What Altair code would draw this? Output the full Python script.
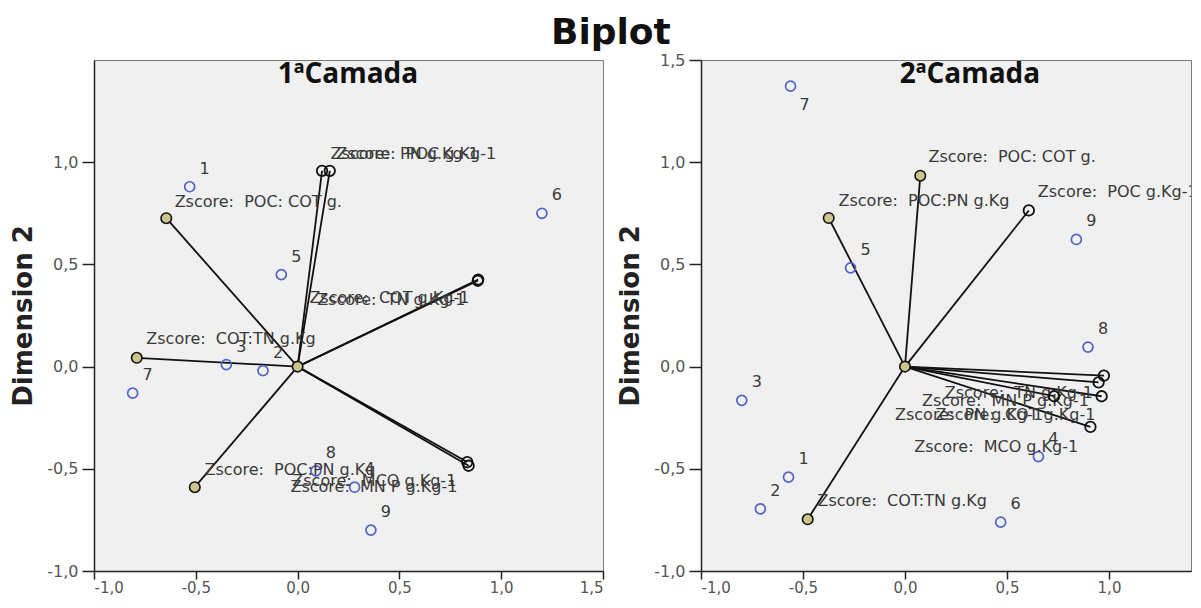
import altair as alt
import pandas as pd

# ---------------- data: 1ª Camada (left panel) ----------------
l_obj_id = ["1", "2", "3", "4", "5", "6", "7", "8", "9"]
l_obj_x = [-0.53, -0.17, -0.35, 0.28, -0.08, 1.20, -0.81, 0.09, 0.36]
l_obj_y = [0.88, -0.02, 0.01, -0.59, 0.45, 0.75, -0.13, -0.51, -0.80]

l_var_name = ["Zscore:\u00a0 POC: COT g.", "Zscore:\u00a0 COT:TN g.Kg", "Zscore:\u00a0 POC:PN g.Kg",
              "Zscore:\u00a0 PN g.Kg-1", "Zscore:\u00a0 POC g.Kg-1", "Zscore:\u00a0 COT g.Kg-1",
              "Zscore:\u00a0 TN g.Kg-1", "Zscore:\u00a0 MCO g.Kg-1", "Zscore:\u00a0 MN P g.Kg-1"]
l_var_kind = ["ratio", "ratio", "ratio", "content", "content", "content", "content", "content", "content"]
l_var_x = [-0.645, -0.79, -0.505, 0.12, 0.158, 0.887, 0.885, 0.833, 0.84]
l_var_y = [0.726, 0.043, -0.59, 0.958, 0.958, 0.426, 0.42, -0.467, -0.485]
l_lab_x = [-0.604, -0.743, -0.457, 0.162, 0.19, 0.058, 0.096, -0.026, -0.035]
l_lab_y = [0.807, 0.136, -0.505, 1.038, 1.038, 0.337, 0.324, -0.562, -0.587]

# ---------------- data: 2ª Camada (right panel) ----------------
r_obj_id = ["1", "2", "3", "4", "5", "6", "7", "8", "9"]
r_obj_x = [-0.571, -0.709, -0.80, 0.654, -0.267, 0.469, -0.561, 0.897, 0.840]
r_obj_y = [-0.541, -0.696, -0.165, -0.44, 0.483, -0.761, 1.372, 0.095, 0.622]

r_var_name = ["Zscore:\u00a0 POC: COT g.", "Zscore:\u00a0 POC:PN g.Kg", "Zscore:\u00a0 POC g.Kg-1",
              "Zscore:\u00a0 COT:TN g.Kg", "Zscore:\u00a0 TN g.Kg-1", "Zscore:\u00a0 MN P g.Kg-1",
              "Zscore:\u00a0 PN g.Kg-1", "Zscore:\u00a0 COT g.Kg-1", "Zscore:\u00a0 MCO g.Kg-1"]
r_var_kind = ["ratio", "ratio", "content", "ratio", "content", "content", "content", "content", "content"]
r_var_x = [0.075, -0.374, 0.607, -0.477, 0.731, 0.964, 0.949, 0.975, 0.909]
r_var_y = [0.934, 0.727, 0.764, -0.747, -0.145, -0.145, -0.077, -0.044, -0.295]
r_lab_x = [0.115, -0.326, 0.651, -0.429, 0.195, 0.083, -0.049, 0.149, 0.045]
r_lab_y = [1.025, 0.81, 0.855, -0.659, -0.13, -0.168, -0.238, -0.238, -0.391]

origin_x = [0.0]
origin_y = [0.0]

l_x_domain = [-1.0, 1.5]
r_x_domain = [-1.0, 1.402]
y_domain = [-1.0, 1.5]
l_x_ticks = [-1.0, -0.5, 0.0, 0.5, 1.0, 1.5]
l_y_ticks = [-1.0, -0.5, 0.0, 0.5, 1.0]
r_x_ticks = [-1.0, -0.5, 0.0, 0.5, 1.0]
r_y_ticks = [-1.0, -0.5, 0.0, 0.5, 1.0, 1.5]

TAN = "#cdc68c"
BLUE = "#4f63c6"
TXT = "#3a3a3a"
LABEL_EXPR = "(datum.value < 0 ? '-' : '') + replace(format(abs(datum.value), '.1f'), '.', ',')"
PLOT_H = 511


def panel(title, title_x, obj_id, obj_x, obj_y, names, kinds, vx, vy, lx, ly,
          x_domain, x_ticks, y_ticks, width, below_ids):
    objs = pd.DataFrame({"id": obj_id, "x": obj_x, "y": obj_y})
    vars_ = pd.DataFrame({"name": names, "kind": kinds, "vx": vx, "vy": vy,
                          "lx": lx, "ly": ly,
                          "ox": origin_x * len(names), "oy": origin_y * len(names)})
    orig = pd.DataFrame({"x": origin_x, "y": origin_y})
    ttl = pd.DataFrame({"t": [title]})

    xs = alt.Scale(domain=x_domain, nice=False, zero=False)
    ys = alt.Scale(domain=y_domain, nice=False, zero=False)
    xa = alt.Axis(values=x_ticks, labelExpr=LABEL_EXPR, title=None,
                  tickSize=8, labelPadding=1, labelFontSize=15)
    ya = alt.Axis(values=y_ticks, labelExpr=LABEL_EXPR, title="Dimension 2")

    def X(f):
        return alt.X(f, type="quantitative", scale=xs, axis=xa)

    def Y(f):
        return alt.Y(f, type="quantitative", scale=ys, axis=ya)

    rules = alt.Chart(vars_).mark_rule(color="#111111", strokeWidth=1.8).encode(
        x=X("ox"), y=Y("oy"), x2="vx:Q", y2="vy:Q")
    hollow = alt.Chart(vars_).transform_filter("datum.kind == 'content'").mark_point(
        shape="circle", filled=False, color="#111111", size=110, strokeWidth=1.8, opacity=1
    ).encode(x=X("vx"), y=Y("vy"))
    tan = alt.Chart(vars_).transform_filter("datum.kind == 'ratio'").mark_point(
        shape="circle", filled=True, fill=TAN, stroke="#111111", size=110, strokeWidth=1.6, opacity=1
    ).encode(x=X("vx"), y=Y("vy"))
    o = alt.Chart(orig).mark_point(
        shape="circle", filled=True, fill=TAN, stroke="#111111", size=110, strokeWidth=1.6, opacity=1
    ).encode(x=X("x"), y=Y("y"))
    pts = alt.Chart(objs).mark_point(
        shape="circle", filled=False, color=BLUE, size=100, strokeWidth=1.7, opacity=1
    ).encode(x=X("x"), y=Y("y"))
    above = "indexof(%s, datum.id) < 0" % repr(below_ids)
    below = "indexof(%s, datum.id) >= 0" % repr(below_ids)
    pl_above = alt.Chart(objs).transform_filter(above).mark_text(
        font="DejaVu Sans", fontSize=16, color=TXT, dx=15, dy=-18
    ).encode(x=X("x"), y=Y("y"), text="id:N")
    pl_below = alt.Chart(objs).transform_filter(below).mark_text(
        font="DejaVu Sans", fontSize=16, color=TXT, dx=14, dy=19
    ).encode(x=X("x"), y=Y("y"), text="id:N")
    vl = alt.Chart(vars_).mark_text(
        font="DejaVu Sans", fontSize=16, color=TXT, align="left", baseline="middle", clip=True
    ).encode(x=X("lx"), y=Y("ly"), text="name:N")
    # panel title, drawn inside the top of the plot frame
    pt = alt.Chart(ttl).mark_text(
        font="Open Sans", fontSize=28, fontWeight="bold", color="#111111",
        align="center", baseline="middle"
    ).encode(x=alt.value(title_x), y=alt.value(15), text="t:N")

    return alt.layer(rules, pts, pl_above, pl_below, vl, hollow, tan, o, pt).properties(
        width=width, height=PLOT_H)


left = panel("1ªCamada", 254, l_obj_id, l_obj_x, l_obj_y, l_var_name, l_var_kind,
             l_var_x, l_var_y, l_lab_x, l_lab_y, l_x_domain, l_x_ticks, l_y_ticks, 509, [])
right = panel("2ªCamada", 269, r_obj_id, r_obj_x, r_obj_y, r_var_name, r_var_kind,
              r_var_x, r_var_y, r_lab_x, r_lab_y, r_x_domain, r_x_ticks, r_y_ticks, 490, ["7"])

chart = alt.HConcatChart(hconcat=[left, right], spacing=98, bounds="flush").properties(
    title=alt.TitleParams("Biplot", font="DejaVu Sans", fontSize=36, fontWeight="bold",
                          color="#111111", anchor="middle", offset=0, dx=10),
    background="white",
    padding={"left": 2, "top": 6, "right": 0, "bottom": 0},
).configure_view(
    fill="#f0f0f0", stroke="#7a7a7a", strokeWidth=1
).configure_axis(
    grid=False, domainColor="#222222", domainWidth=1.5, tickColor="#222222", tickWidth=1.5,
    tickSize=12, labelPadding=4, labelFont="DejaVu Sans", labelFontSize=16, labelColor="#555555",
    titleFont="DejaVu Sans", titleFontSize=26, titleFontWeight="bold", titleColor="#222222",
    titlePadding=10
)

chart.save("out.html", embed_options={"renderer": "svg", "actions": False})
